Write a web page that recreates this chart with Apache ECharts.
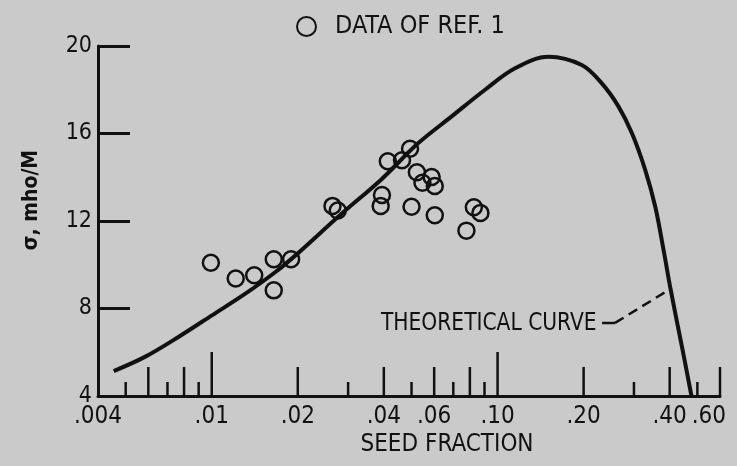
<!DOCTYPE html>
<html>
<head>
<meta charset="utf-8">
<script src="https://cdn.jsdelivr.net/npm/echarts@6/dist/echarts.min.js"></script>
<style>
  html, body { margin: 0; padding: 0; background: #cacaca; }
  #main { width: 737px; height: 466px; }
</style>
</head>
<body>
<div id="main"></div>
<script>
// 数据
var dataX = [0.00993, 0.01213, 0.01408, 0.01648, 0.01648, 0.01895, 0.02645, 0.0276, 0.0394, 0.0390,
  0.0413, 0.0463, 0.0494, 0.0522, 0.0546, 0.0588, 0.0603, 0.0500, 0.0603, 0.0778, 0.0826, 0.0871];
var dataY = [10.09, 9.37, 9.52, 10.25, 8.83, 10.25, 12.69, 12.48, 13.19, 12.69,
  14.73, 14.78, 15.30, 14.23, 13.75, 14.01, 13.60, 12.65, 12.26, 11.56, 12.63, 12.37];

// 理论曲线
var curveX = [0.00454, 0.00586, 0.00767, 0.01005, 0.01315, 0.01675, 0.0200, 0.0280, 0.0392, 0.0527,
  0.0689, 0.0902, 0.1151, 0.1507, 0.1970, 0.2316, 0.2650, 0.2952, 0.3286, 0.3562, 0.3813, 0.4020, 0.4424, 0.4768];
var curveY = [5.14, 5.80, 6.71, 7.70, 8.69, 9.68, 10.52, 12.25, 13.90, 15.55,
  16.77, 17.99, 18.98, 19.51, 19.13, 18.29, 17.23, 16.01, 14.33, 12.65, 10.64, 8.95, 6.20, 4.0];

// 引线
var leaderSolidX = [0.232, 0.2576];
var leaderSolidY = [7.34, 7.34];
var leaderDashX = [0.2576, 0.3926];
var leaderDashY = [7.34, 8.81];

// 刻度
var shortTicks = [0.005, 0.007, 0.009, 0.03, 0.05, 0.07, 0.09, 0.3, 0.5];
var midTicks = [0.006, 0.008, 0.02, 0.04, 0.06, 0.08, 0.2, 0.4, 0.6];
var longTicks = [0.01, 0.1];
var tickLabelValues = [0.004, 0.01, 0.02, 0.04, 0.06, 0.1, 0.2, 0.4, 0.6];
var tickLabelText = ['.004', '.01', '.02', '.04', '.06', '.10', '.20', '.40', '.60'];

var yMin = 4, yMax = 20, yStep = 4;
var xMin = 0.004, xMax = 0.6;

var FONT = "'Liberation Sans Narrow', 'DejaVu Sans Condensed', 'Arial Narrow', sans-serif";
var INK = '#111';

function pairs(xs, ys) {
  return xs.map(function (x, i) { return [x, ys[i]]; });
}

function tickSeries(values, len) {
  return {
    type: 'custom',
    silent: true,
    clip: false,
    z: 1,
    data: values.map(function (v) { return [v, yMin]; }),
    renderItem: function (params, api) {
      var p = api.coord([api.value(0), api.value(1)]);
      return {
        type: 'line',
        shape: { x1: p[0], y1: p[1], x2: p[0], y2: p[1] - len },
        style: { stroke: INK, lineWidth: 2.5 }
      };
    }
  };
}

var chart = echarts.init(document.getElementById('main'));

var option = {
  backgroundColor: '#cacaca',
  animation: false,
  grid: { left: 98, right: 17, top: 46, bottom: 70 },
  legend: {
    data: ['DATA OF REF. 1'],
    left: 291,
    top: 9,
    selectedMode: false,
    itemWidth: 19,
    itemHeight: 19,
    textStyle: { fontFamily: FONT, fontSize: 25, color: INK, padding: [0, 0, 0, 14] }
  },
  xAxis: {
    type: 'log',
    logBase: 10,
    min: xMin,
    max: xMax,
    axisLine: { show: true, lineStyle: { color: INK, width: 3 } },
    axisTick: { show: false },
    axisLabel: { show: false },
    splitLine: { show: false },
    minorTick: { show: false }
  },
  yAxis: {
    type: 'value',
    min: yMin,
    max: yMax,
    interval: yStep,
    axisLine: { show: true, lineStyle: { color: INK, width: 3 } },
    axisTick: { show: true, inside: true, length: 32, lineStyle: { color: INK, width: 3 } },
    axisLabel: { fontFamily: FONT, fontSize: 23, color: INK, margin: 6 },
    splitLine: { show: false }
  },
  graphic: [
    {
      type: 'text', x: 447, y: 445,
      style: { text: 'SEED FRACTION', font: '24px ' + FONT, fill: INK, align: 'center', verticalAlign: 'middle' }
    },
    {
      type: 'text', x: 32, y: 200, rotation: Math.PI / 2,
      style: { text: 'σ, mho/M', font: 'bold 21px ' + FONT, fill: INK, align: 'center', verticalAlign: 'middle' }
    },
    {
      type: 'text', x: 381, y: 323, scaleX: 0.9,
      style: { text: 'THEORETICAL CURVE', font: '25px ' + FONT, fill: INK, align: 'left', verticalAlign: 'middle' }
    }
  ],
  series: [
    tickSeries(shortTicks, 14),
    tickSeries(midTicks, 29),
    tickSeries(longTicks, 44),
    {
      type: 'custom',
      silent: true,
      clip: false,
      data: tickLabelValues.map(function (v) { return [v, yMin]; }),
      renderItem: function (params, api) {
        var p = api.coord([api.value(0), api.value(1)]);
        var last = params.dataIndex === tickLabelText.length - 1;
        return {
          type: 'text',
          x: last ? p[0] + 6 : p[0],
          y: p[1] + 21,
          style: {
            text: tickLabelText[params.dataIndex],
            font: '24px ' + FONT,
            fill: INK,
            align: last ? 'right' : 'center',
            verticalAlign: 'middle'
          }
        };
      }
    },
    {
      name: 'THEORETICAL CURVE',
      type: 'line',
      data: pairs(curveX, curveY),
      smooth: 0.35,
      showSymbol: false,
      silent: true,
      clip: false,
      lineStyle: { color: INK, width: 4 },
      z: 3
    },
    {
      type: 'line',
      data: pairs(leaderSolidX, leaderSolidY),
      showSymbol: false,
      silent: true,
      lineStyle: { color: INK, width: 2.5 }
    },
    {
      type: 'line',
      data: pairs(leaderDashX, leaderDashY),
      showSymbol: false,
      silent: true,
      lineStyle: { color: INK, width: 2.5, type: [10, 6] }
    },
    {
      name: 'DATA OF REF. 1',
      type: 'scatter',
      data: pairs(dataX, dataY),
      symbol: 'circle',
      symbolSize: 16,
      itemStyle: { color: 'transparent', borderColor: INK, borderWidth: 2.5, opacity: 1 },
      z: 4
    }
  ]
};

chart.setOption(option);

window.addEventListener('resize', function () {
  chart.resize();
});
</script>
</body>
</html>
